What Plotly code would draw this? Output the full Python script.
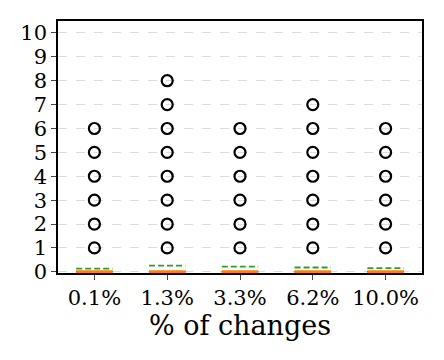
import plotly.graph_objects as go

categories = ["0.1%", "1.3%", "3.3%", "6.2%", "10.0%"]
q1 = [0, 0, 0, 0, 0]
q3 = [0, 0, 0, 0, 0]
medians = [0, 0, 0, 0, 0]
means = [0.13, 0.26, 0.22, 0.18, 0.15]
fliers = [
    [1, 2, 3, 4, 5, 6],
    [1, 2, 3, 4, 5, 6, 7, 8],
    [1, 2, 3, 4, 5, 6],
    [1, 2, 3, 4, 5, 6, 7],
    [1, 2, 3, 4, 5, 6],
]

FONT = "DejaVu Serif"
HALF = 0.25

fig = go.Figure()


def seg_xy(vals):
    xs, ys = [], []
    for i, v in enumerate(vals):
        p = i + 1
        xs += [p - HALF, p + HALF, None]
        ys += [v, v, None]
    return xs, ys


# boxes (collapsed at zero)
bx, by = [], []
for i, (a, b) in enumerate(zip(q1, q3)):
    p = i + 1
    bx += [p - HALF, p + HALF, p + HALF, p - HALF, p - HALF, None]
    by += [a, a, b, b, a, None]
fig.add_trace(go.Scatter(x=bx, y=by, mode="lines", line=dict(color="black", width=1.5),
                         hoverinfo="skip", showlegend=False))

# fliers
fx, fy = [], []
for i, vals in enumerate(fliers):
    fx += [i + 1] * len(vals)
    fy += vals
fig.add_trace(go.Scatter(x=fx, y=fy, mode="markers",
                         marker=dict(symbol="circle-open", size=11, color="black", line=dict(width=2.2)),
                         showlegend=False))

mx, my = seg_xy(medians)
fig.add_trace(go.Scatter(x=mx, y=my, mode="lines", line=dict(color="#ff7f0e", width=3),
                         showlegend=False))

ax, ay = seg_xy(means)
fig.add_trace(go.Scatter(x=ax, y=ay, mode="lines", line=dict(color="#2ca02c", width=1.8, dash="6px,3px"),
                         showlegend=False))

# page body adds an 8px offset, so margins are shifted to compensate
fig.update_layout(
    width=444,
    height=360,
    margin=dict(l=50, r=30, t=13, b=95),
    paper_bgcolor="white",
    plot_bgcolor="white",
    font=dict(family=FONT, color="black", size=21),
    showlegend=False,
)
fig.update_xaxes(
    range=[0.5, 5.5],
    tickvals=list(range(1, len(categories) + 1)),
    ticktext=categories,
    ticks="outside", ticklen=5, tickwidth=1.2,
    showgrid=False, zeroline=False,
    showline=True, linecolor="black", linewidth=1.5, mirror=True,
    title=dict(text="% of changes", font=dict(size=27, family=FONT), standoff=4),
    tickfont=dict(size=21, family=FONT),
)
fig.update_yaxes(
    range=[-0.05, 10.5],
    tickvals=list(range(0, 11)),
    ticks="outside", ticklen=5, tickwidth=1.2,
    showgrid=True, gridcolor="#dddddd", griddash="dash", gridwidth=0.8,
    zeroline=False,
    showline=True, linecolor="black", linewidth=1.5, mirror=True,
    tickfont=dict(size=21, family=FONT),
)

fig.write_html("out.html")
